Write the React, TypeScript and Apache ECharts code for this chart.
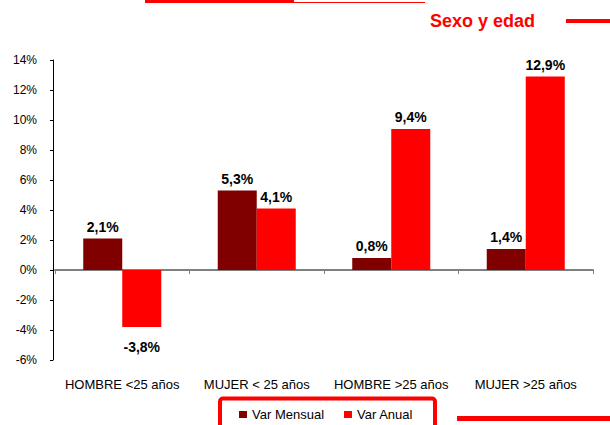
import React, { useEffect, useRef } from "react";
import * as echarts from "echarts";

const categories = ["HOMBRE <25 años", "MUJER < 25 años", "HOMBRE >25 años", "MUJER >25 años"];
const varMensual = [2.1, 5.3, 0.8, 1.4];
const varAnual = [-3.8, 4.1, 9.4, 12.9];
const seriesNames = ["Var Mensual", "Var Anual"];
const title = "Sexo y edad";

const FONT = "'Liberation Sans', Arial, sans-serif";
const DARK = "#800000";
const RED = "#FF0000";

const fmt = (v: number) => v.toFixed(1).replace(".", ",") + "%";

const makeData = (arr: number[]) =>
  arr.map((v) => ({
    value: v,
    label: v < 0 ? { position: "bottom", distance: 13 } : { position: "top", distance: 5 },
  }));

export default function App() {
  const ref = useRef<HTMLDivElement>(null);
  useEffect(() => {
    if (!ref.current) return;
    const chart = echarts.init(ref.current, undefined, { renderer: "svg" });
    const labelStyle = {
      show: true,
      formatter: (p: any) => fmt(p.value),
      fontFamily: FONT,
      fontSize: 14,
      fontWeight: "bold",
      color: "#000",
    };
    chart.setOption({
      animation: false,
      backgroundColor: "#fff",
      textStyle: { fontFamily: FONT },
      grid: { left: 55, width: 538, top: 60, height: 300, containLabel: false, outerBoundsMode: "none" },
      legend: {
        data: seriesNames,
        left: 239,
        top: 408,
        padding: 0,
        itemWidth: 8,
        itemHeight: 7,
        itemGap: 20,
        icon: "rect",
        textStyle: { fontFamily: FONT, fontSize: 13, color: "#000" },
      },
      xAxis: {
        type: "category",
        data: categories,
        axisLine: { onZero: true, lineStyle: { color: "#808080", width: 2 } },
        axisTick: { show: true, length: 4, lineStyle: { color: "#808080" } },
        axisLabel: { interval: 0, hideOverlap: false, margin: 18, fontFamily: FONT, fontSize: 13, color: "#000" },
        splitLine: { show: false },
      },
      yAxis: {
        type: "value",
        min: -6,
        max: 14,
        interval: 2,
        offset: 2,
        axisLine: { show: true, lineStyle: { color: "#000", width: 1 } },
        axisTick: { show: true, length: 3, lineStyle: { color: "#000" } },
        axisLabel: { formatter: "{value}%", margin: 16, fontFamily: FONT, fontSize: 12, color: "#000" },
        splitLine: { show: false },
      },
      series: [
        {
          name: seriesNames[0],
          type: "bar",
          data: makeData(varMensual),
          itemStyle: { color: DARK },
          barGap: "0%",
          barCategoryGap: "42%",
          label: labelStyle,
        },
        {
          name: seriesNames[1],
          type: "bar",
          data: makeData(varAnual),
          itemStyle: { color: RED },
          barGap: "0%",
          barCategoryGap: "42%",
          label: labelStyle,
        },
      ],
      graphic: [
        { type: "rect", shape: { x: 145, y: 0, width: 149, height: 3 }, style: { fill: RED } },
        { type: "rect", shape: { x: 294, y: 2, width: 131, height: 1 }, style: { fill: RED } },
        {
          type: "text",
          x: 430,
          y: 12,
          style: { text: title, fill: RED, font: `bold 18px ${FONT}` },
        },
        { type: "rect", shape: { x: 566, y: 19, width: 44, height: 4 }, style: { fill: RED } },
        {
          type: "rect",
          shape: { x: 220, y: 398.5, width: 215, height: 40, r: 3 },
          style: { fill: "none", stroke: RED, lineWidth: 4 },
        },
        { type: "rect", shape: { x: 457, y: 416, width: 153, height: 5 }, style: { fill: RED } },
      ],
    });
    return () => chart.dispose();
  }, []);
  return (
    <div
      ref={ref}
      style={{ position: "fixed", left: 0, top: 0, width: 610, height: 425, background: "#fff" }}
    />
  );
}
